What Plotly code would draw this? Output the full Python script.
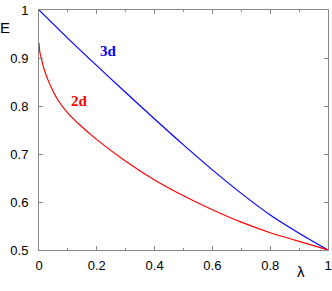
import plotly.graph_objects as go

# 3d curve
lam_3d = [0.0, 0.1, 0.2, 0.3, 0.4, 0.5, 0.6, 0.7, 0.8, 0.9, 1.0]
E_3d = [1.0, 0.941, 0.884, 0.828, 0.773, 0.719, 0.667, 0.618, 0.573, 0.535, 0.5]

# 2d curve
lam_2d = [0.0, 0.003, 0.008, 0.02, 0.03, 0.043, 0.066, 0.1, 0.135, 0.2, 0.3, 0.4, 0.5, 0.6, 0.7, 0.8, 0.9, 1.0]
E_2d = [0.931, 0.912, 0.899, 0.872, 0.856, 0.838, 0.812, 0.785, 0.764, 0.730, 0.685, 0.646, 0.613, 0.584, 0.558, 0.536, 0.518, 0.5]

x_ticks = [0, 0.2, 0.4, 0.6, 0.8, 1]
y_ticks = [0.5, 0.6, 0.7, 0.8, 0.9, 1]

fig = go.Figure()
fig.add_trace(go.Scatter(x=lam_3d, y=E_3d, mode="lines",
                         line=dict(color="#0000ff", width=1.2, shape="spline", smoothing=0.8), showlegend=False))
fig.add_trace(go.Scatter(x=lam_2d, y=E_2d, mode="lines",
                         line=dict(color="#ff0000", width=1.2, shape="spline", smoothing=1.0), showlegend=False))

axis_common = dict(showgrid=False, zeroline=False, showline=True, linecolor="#888888", linewidth=1,
                   mirror="ticks", ticks="inside", ticklen=4, tickcolor="#888888", automargin=False,
                   tickfont=dict(family="Liberation Sans, Arial, sans-serif", size=13, color="black"))

fig.update_layout(
    width=332, height=291,
    margin=dict(l=39, r=4, t=10, b=41),
    paper_bgcolor="white", plot_bgcolor="white",
    xaxis=dict(range=[0, 1], tickvals=x_ticks, ticktext=[str(v) for v in x_ticks],
               minor=dict(ticks="inside", ticklen=2, dtick=0.1, tickcolor="#888888"),
               ticklabelstandoff=3, **axis_common),
    yaxis=dict(range=[0.5, 1], tickvals=y_ticks, ticktext=[str(v) for v in y_ticks],
               ticklabelstandoff=7, **axis_common),
    annotations=[
        dict(text="E", x=-0.118, y=0.925, xref="paper", yref="paper", showarrow=False,
             xanchor="center", yanchor="middle",
             font=dict(family="Liberation Sans, Arial, sans-serif", size=15, color="black")),
        dict(text="λ", x=0.907, y=-0.09, xref="paper", yref="paper", showarrow=False,
             xanchor="center", yanchor="middle",
             font=dict(family="Liberation Sans, Arial, sans-serif", size=15, color="black")),
        dict(text="<b>3d</b>", x=0.242, y=0.915, xref="x", yref="y", showarrow=False,
             xanchor="center", yanchor="middle",
             font=dict(family="Liberation Serif, Times New Roman, serif", size=15, color="#0000ff")),
        dict(text="<b>2d</b>", x=0.14, y=0.81, xref="x", yref="y", showarrow=False,
             xanchor="center", yanchor="middle",
             font=dict(family="Liberation Serif, Times New Roman, serif", size=15, color="#ff0000")),
    ],
)

fig.write_html("out.html", config={"displayModeBar": False},
               post_script="document.body.style.margin='0';document.body.style.overflow='hidden';")
